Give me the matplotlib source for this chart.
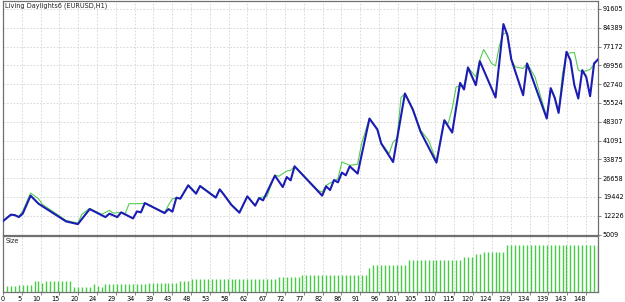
import matplotlib
matplotlib.use("Agg")
import matplotlib.pyplot as plt
import numpy as np

# balance line (thick blue): trade number -> balance
balance_trade = [0, 2, 3, 4, 5, 7, 9, 16, 19, 22, 26, 27, 29, 30, 33, 34, 35, 36, 41, 42,
                 43, 44, 45, 47, 49, 50, 54, 55, 56, 58, 60, 62, 64, 65, 66, 69, 71, 72, 73, 74,
                 81, 82, 83, 84, 85, 86, 87, 88, 90, 93, 95, 96, 99, 102, 104, 106, 110, 112, 114, 116,
                 117, 118, 120, 121, 125, 127, 128, 129, 132, 133, 138, 139, 140, 141, 143, 144, 145, 146, 147, 148,
                 149, 150, 151]
balance = [10150, 12610, 12457, 11688, 12995, 19916, 16840, 10034, 8996, 14764, 11688, 12995, 11688, 13495, 11188, 13879, 13495, 17071, 13226, 14764,
           13764, 19147, 18763, 23876, 20685, 23607, 19147, 22338, 20416, 16302, 13380, 19647, 16071, 18993, 18109, 27606, 23223, 27068, 25799, 31182,
           19916, 23492, 22069, 25914, 25030, 28760, 27721, 31182, 28375, 49523, 45293, 39910, 32835, 59135, 52983, 44370, 32605, 48869, 44140, 63211,
           60673, 69132, 62326, 71554, 57597, 85781, 81551, 72208, 58481, 70670, 49523, 61173, 57597, 51676, 75130, 71939, 62326, 57213, 68094, 65518,
           58096, 70670, 72208]

# equity line (thin green)
equity_trade = [0, 2, 4, 5, 7, 9, 10, 16, 19, 20, 22, 25, 27, 28, 30, 31, 32, 35, 36, 41,
                42, 43, 45, 47, 49, 50, 54, 55, 56, 58, 60, 62, 64, 65, 67, 69, 70, 72, 73, 74,
                75, 80, 81, 82, 85, 86, 88, 90, 91, 93, 95, 96, 98, 99, 100, 101, 102, 104, 106, 108,
                110, 112, 113, 114, 115, 117, 118, 120, 121, 122, 124, 125, 126, 127, 128, 129, 130, 132, 133, 135,
                138, 139, 140, 141, 142, 143, 145, 146, 147, 149, 151]
equity = [10150, 12726, 11957, 13995, 20916, 18763, 16571, 10419, 9381, 12726, 15033, 12726, 14264, 13226, 13495, 12995, 16840, 16840, 17071, 13495,
          16302, 18763, 18993, 23992, 20916, 23876, 19378, 22454, 20530, 16571, 13610, 19647, 16186, 19147, 19647, 27837, 27337, 29375, 29644, 31182,
          29644, 21954, 21300, 23876, 26453, 32835, 31566, 32000, 39910, 49523, 45677, 40140, 36065, 40525, 41832, 57597, 59135, 53368, 45024, 41179,
          33220, 48869, 47600, 53368, 61673, 62326, 69132, 65518, 71939, 76053, 70670, 69747, 77706, 82205, 82205, 72208, 69363, 68748, 70670, 65518,
          50020, 61173, 57597, 52060, 66825, 74515, 74900, 68094, 67441, 68364, 72208]

# lot size per trade (lower panel), trades 1..151
sizes = [0.32, 0.32, 0.32, 0.38, 0.38, 0.38, 0.38, 0.64, 0.64, 0.50,
         0.64, 0.64, 0.64, 0.64, 0.64, 0.64, 0.64, 0.30, 0.30, 0.30,
         0.30, 0.30, 0.44, 0.36, 0.30, 0.48, 0.48, 0.48, 0.48, 0.48,
         0.48, 0.48, 0.48, 0.48, 0.48, 0.48, 0.54, 0.54, 0.54, 0.54,
         0.54, 0.54, 0.54, 0.54, 0.62, 0.62, 0.62, 0.78, 0.78, 0.78,
         0.78, 0.78, 0.78, 0.78, 0.78, 0.78, 0.78, 0.78, 0.78, 0.78,
         0.78, 0.78, 0.78, 0.78, 0.78, 0.78, 0.78, 0.78, 0.78, 0.86,
         0.86, 0.86, 0.86, 0.86, 0.86, 0.98, 0.98, 0.98, 0.98, 0.98,
         0.98, 0.98, 0.98, 0.98, 0.98, 0.98, 0.98, 0.98, 0.98, 0.98,
         0.98, 0.98, 1.40, 1.60, 1.60, 1.60, 1.60, 1.60, 1.60, 1.60,
         1.60, 1.60, 1.90, 1.90, 1.90, 1.90, 1.90, 1.90, 1.90, 1.90,
         1.90, 1.90, 1.90, 1.90, 1.90, 1.90, 2.06, 2.06, 2.06, 2.24,
         2.24, 2.36, 2.36, 2.36, 2.36, 2.36, 2.36, 2.80, 2.80, 2.80,
         2.80, 2.80, 2.80, 2.80, 2.80, 2.80, 2.80, 2.80, 2.80, 2.80,
         2.80, 2.80, 2.80, 2.80, 2.80, 2.80, 2.80, 2.80, 2.80, 2.80,
         2.80]
size_trade = list(range(1, len(sizes) + 1))

y_levels = [5009, 12226, 19442, 26658, 33875, 41091, 48307, 55524, 62740, 69956, 77172, 84389, 91605]
x_labels = ["0", "5", "10", "15", "20", "24", "29", "34", "39", "43", "48", "53", "58", "62", "67", "72",
            "77", "82", "86", "91", "96", "101", "105", "110", "115", "120", "124", "129", "134", "139", "143", "148"]

plt.rcParams["font.family"] = ["Liberation Sans Narrow", "DejaVu Sans"]
FS = 4.7
frame = "#707070"
grid_kw = dict(color="#d2d2d2", linestyle=(0, (2, 2)), linewidth=0.6)

W, H = 625, 302
fig = plt.figure(figsize=(W / 100, H / 100), dpi=100)
ax = fig.add_axes([3 / W, 1 - 234.5 / H, 595 / W, 233.5 / H])
ax2 = fig.add_axes([3 / W, 1 - 291.7 / H, 595 / W, 55.7 / H])

x_max = 151
grid_x = np.arange(len(x_labels)) * 4.772

# main panel
ax.plot(equity_trade, equity, color="#52cc52", linewidth=0.8, zorder=3)
ax.plot(balance_trade, balance, color="#1c1cb4", linewidth=1.5, zorder=4)
ax.set_xlim(0, x_max)
ax.set_ylim(5009, 94640)
ax.set_xticks(grid_x)
ax.set_xticklabels([])
ax.tick_params(axis="x", length=0)
ax.yaxis.tick_right()
ax.set_yticks(y_levels)
ax.set_yticklabels([str(v) for v in y_levels], fontsize=FS)
ax.tick_params(axis="y", length=2, width=0.6, color=frame, pad=1.5)
ax.grid(True, **grid_kw)
ax.set_axisbelow(True)
for sp in ax.spines.values():
    sp.set_color(frame)
    sp.set_linewidth(0.9)
ax.text(0.004, 0.992, "Living Daylights6 (EURUSD,H1)", transform=ax.transAxes,
        fontsize=FS, va="top", ha="left", color="#202020")

# size panel
ax2.vlines(size_trade, 0, sizes, color="#44cc44", linewidth=1.0, zorder=3)
ax2.set_xlim(0, x_max)
ax2.set_ylim(0, 3.34)
ax2.set_yticks([])
ax2.set_xticks(grid_x)
ax2.set_xticklabels(x_labels, fontsize=FS)
for i, lbl in enumerate(ax2.get_xticklabels()):
    lbl.set_ha("center" if i == 0 else "right")
ax2.tick_params(axis="x", length=2, width=0.6, color=frame, pad=1)
ax2.grid(True, axis="x", **grid_kw)
ax2.set_axisbelow(True)
for sp in ax2.spines.values():
    sp.set_color(frame)
    sp.set_linewidth(0.9)
ax2.text(0.004, 0.97, "Size", transform=ax2.transAxes, fontsize=FS, va="top", ha="left", color="#202020")

fig.savefig("out.png", dpi=100)
